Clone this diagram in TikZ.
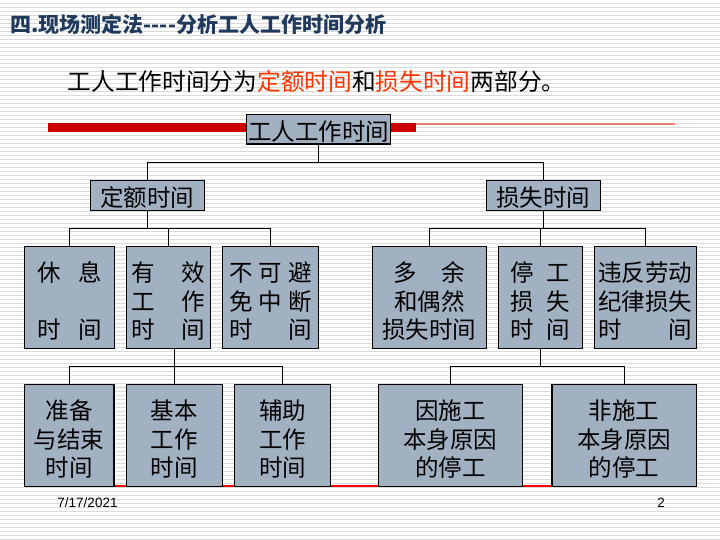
\documentclass[tikz,border=0pt]{standalone}
\usepackage{fontspec}
\setmainfont{Noto Sans CJK SC}
\newfontfamily\footfont{Liberation Sans}
\definecolor{boxgray}{RGB}{162,177,194}
\definecolor{stripegray}{RGB}{218,218,218}
\definecolor{titleblue}{RGB}{31,58,92}
\definecolor{barred}{RGB}{204,0,0}
\definecolor{thinred}{RGB}{232,128,120}
\definecolor{wordred}{RGB}{255,51,0}
\newcommand{\jline}[2]{\makebox[#1pt][s]{#2}}
\newcommand{\tstrut}{\rule{0pt}{27.5pt}}
\tikzset{
  box/.style={draw, line width=1.2pt, fill=boxgray, inner sep=0pt, align=center,
    font=\fontsize{23.5}{28.3}\selectfont},
  wide/.style={minimum height=29.7pt, text height=25.8pt, text depth=3.9pt},
  tall/.style={minimum height=102pt}
}
\begin{document}
\begin{tikzpicture}[x=1pt, y=-1pt]
\useasboundingbox (0,0) rectangle (720,540);
\fill[white] (0,0) rectangle (720,540);
\foreach \y in {3.5,7.5,...,539.5}
  \draw[stripegray, line width=1pt] (0,\y) -- (720,\y);

\node[anchor=west, text=titleblue, font=\fontsize{21}{24}\selectfont\bfseries] (title) at (7,24)
  {四.现场测定法{-}{-}{-}{-}分析工人工作时间分析};
\node[anchor=west, inner sep=0pt, font=\fontsize{23.7}{28}\selectfont] (intro) at (67.5,81.7)
  {工人工作时间分为\textcolor{wordred}{定额时间}和\textcolor{wordred}{损失时间}两部分。};

\fill[barred] (48.2,123.3) rectangle (415.5,131.7);
\draw[thinred, line width=2pt] (415.5,124.3) -- (675,124.3);
\draw[red, line width=1.5pt] (24,486) -- (696,486);

\node[box, wide, minimum width=144pt] (root) at (318.6,129.2) {工人工作时间};
\node[box, wide, minimum width=114pt] (quota) at (147.3,195.5) {定额时间};
\node[box, wide, minimum width=114pt] (loss) at (543.3,195.5) {损失时间};

\node[box, tall, minimum width=90.4pt] (rest) at (69.5,297.3)
  {\tstrut\jline{65}{休\hfill 息}\\\mbox{}\\\jline{65}{时\hfill 间}};
\node[box, tall, minimum width=84pt] (work) at (168.3,297.3)
  {\tstrut\jline{73}{有\hfill 效}\\\jline{73}{工\hfill 作}\\\jline{73}{时\hfill 间}};
\node[box, tall, minimum width=96.4pt] (breaks) at (270.5,297.3)
  {\tstrut\jline{83}{不\hfill 可\hfill 避}\\\jline{83}{免\hfill 中\hfill 断}\\\jline{83}{时\hfill 间}};
\node[box, tall, minimum width=114pt] (extra) at (429.3,297.3)
  {\tstrut\jline{72}{多\hfill 余}\\和偶然\\损失时间};
\node[box, tall, minimum width=84pt] (stop) at (540.3,297.3)
  {\tstrut\jline{59}{停\hfill 工}\\\jline{59}{损\hfill 失}\\\jline{59}{时\hfill 间}};
\node[box, tall, minimum width=102pt] (disc) at (645.3,297.3)
  {\tstrut 违反劳动\\纪律损失\\\jline{94}{时\hfill 间}};

\node[box, tall, minimum width=89.6pt] (prep) at (69.1,435.2) {\tstrut 准备\\与结束\\时间};
\node[box, tall, minimum width=95.9pt] (basic) at (174.3,435.2) {\tstrut 基本\\工作\\时间};
\node[box, tall, minimum width=96pt] (aux) at (282.6,435.2) {\tstrut 辅助\\工作\\时间};
\node[box, tall, minimum width=144.2pt] (own) at (450.4,435.2) {\tstrut 因施工\\本身原因\\的停工};
\node[box, tall, minimum width=144.6pt] (other) at (624.2,435.2) {\tstrut 非施工\\本身原因\\的停工};

\coordinate (top bus) at (318.6,162.3);
\coordinate (qbus) at (147.3,228.3);
\coordinate (lbus) at (543.3,228.3);
\coordinate (wbus) at (174.3,366.3);
\coordinate (sbus) at (540.3,366.3);

\draw[line width=1pt] (root.south) -- (top bus);
\draw[line width=1pt] (quota.north) |- (top bus) -| (loss.north);
\draw[line width=1pt] (quota.south) -- (qbus);
\draw[line width=1pt] (rest.north) |- (qbus) -| (breaks.north);
\draw[line width=1pt] (work.north) -- (work.north |- qbus);
\draw[line width=1pt] (loss.south) -- (lbus);
\draw[line width=1pt] (extra.north) |- (lbus) -| (disc.north);
\draw[line width=1pt] (stop.north) -- (stop.north |- lbus);
\draw[line width=1pt] (basic.north) -- (basic.north |- work.south);
\draw[line width=1pt] (prep.north) |- (wbus) -| (aux.north);
\draw[line width=1pt] (stop.south) -- (sbus);
\draw[line width=1pt] (own.north) |- (sbus) -| (other.north);

\node[font=\footfont\fontsize{13.5}{15}\selectfont] (date) at (87.5,503) {7/17/2021};
\node[font=\footfont\fontsize{13.5}{15}\selectfont] (page) at (661,503) {2};
\end{tikzpicture}
\end{document}
